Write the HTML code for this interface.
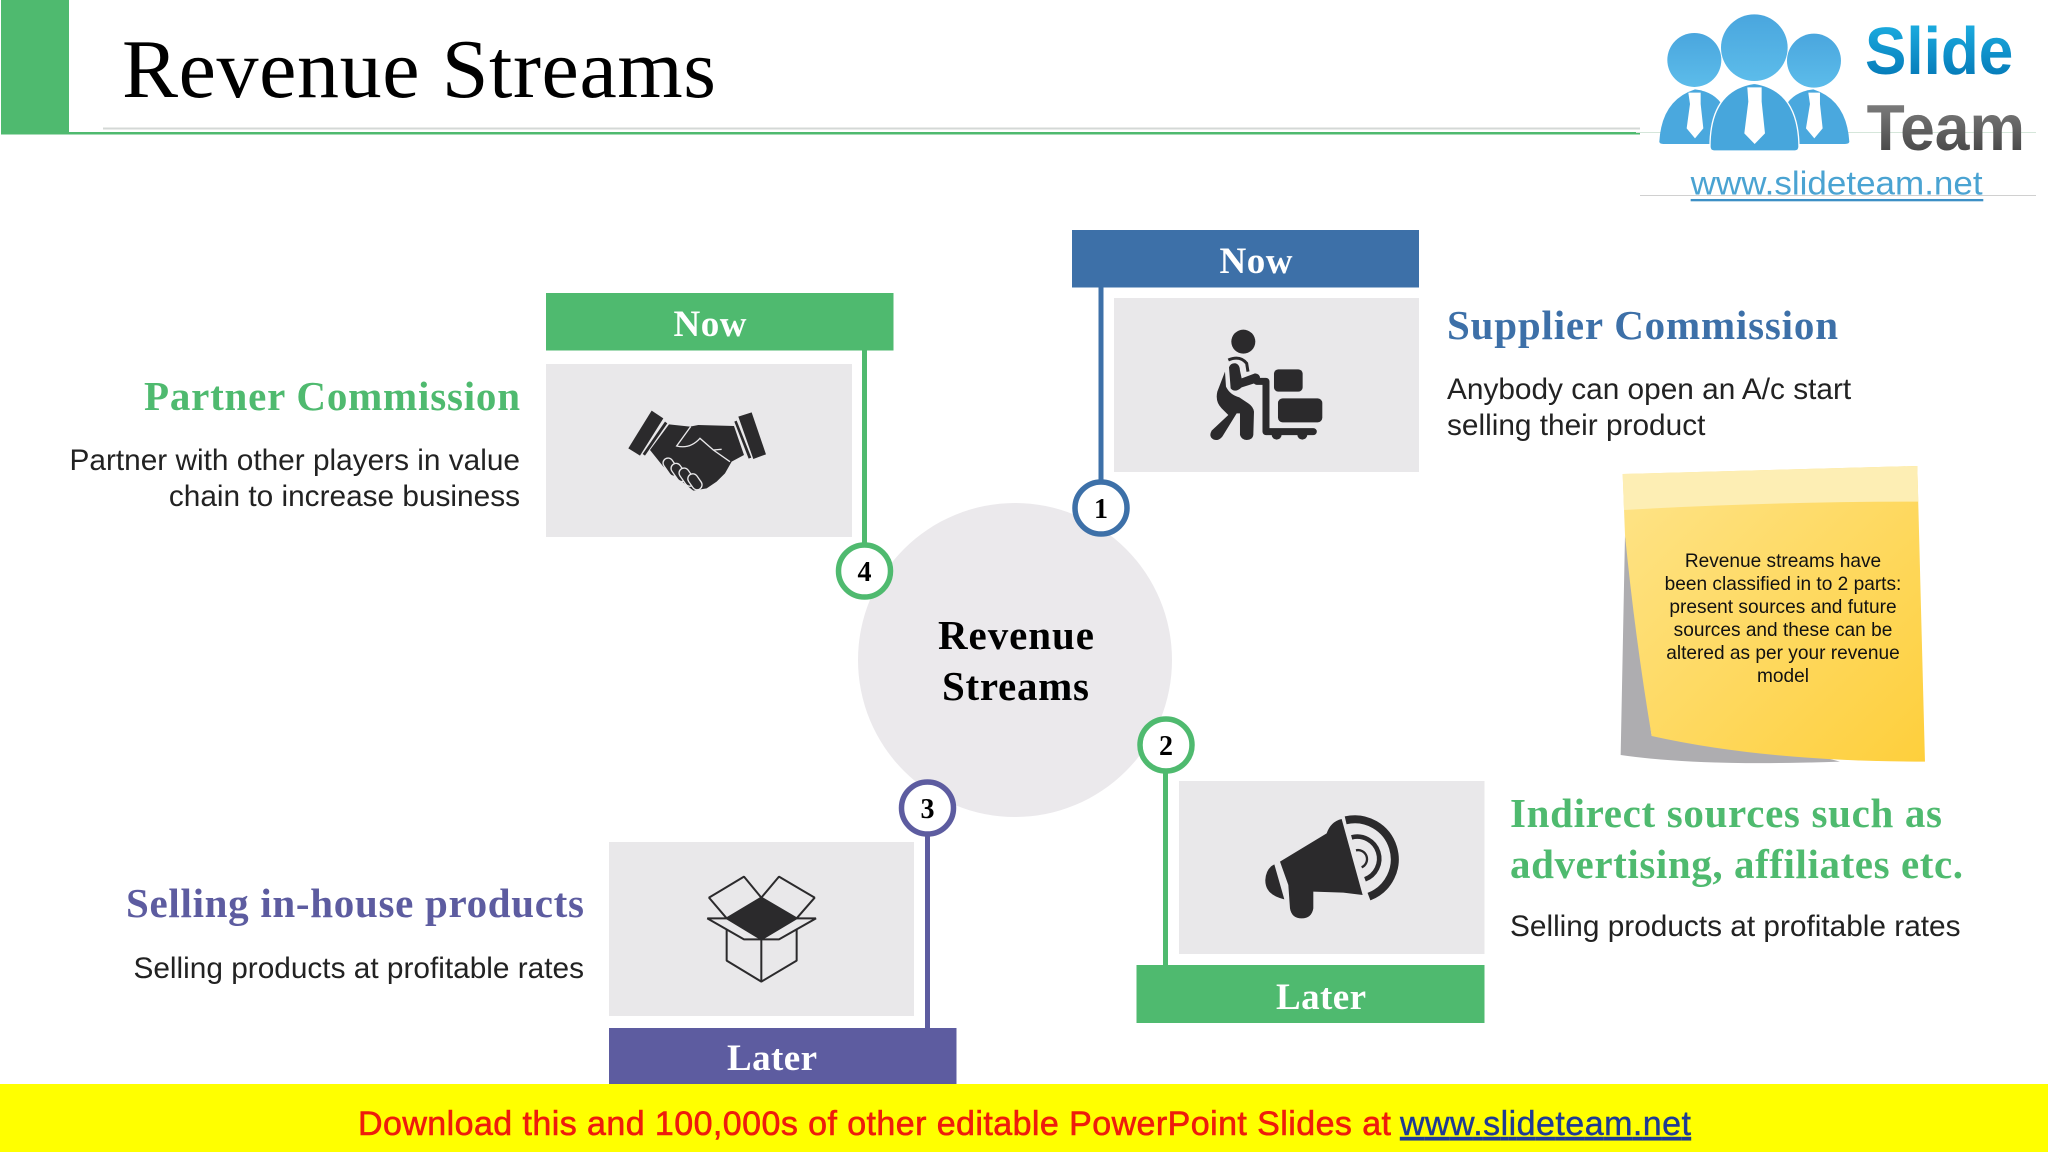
<!DOCTYPE html>
<html><head><meta charset="utf-8"><title>Revenue Streams</title>
<style>
html,body{margin:0;padding:0;background:#fff;width:2048px;height:1152px;overflow:hidden}
svg{display:block}
.s{font-family:"Liberation Serif",serif}
.b{font-family:"Liberation Serif",serif;font-weight:bold}
.a{font-family:"Liberation Sans",sans-serif}
</style></head><body>
<svg width="2048" height="1152" viewBox="0 0 2048 1152" xmlns="http://www.w3.org/2000/svg">
<defs>
<linearGradient id="note" x1="0" y1="0" x2="1" y2="1"><stop offset="0" stop-color="#fee48a"/><stop offset="1" stop-color="#fecf3c"/></linearGradient>
<linearGradient id="sl" x1="0" y1="0" x2="0" y2="1"><stop offset="0" stop-color="#20b4e6"/><stop offset="1" stop-color="#0070b0"/></linearGradient>
<linearGradient id="te" x1="0" y1="0" x2="0" y2="1"><stop offset="0" stop-color="#8a8a8a"/><stop offset="1" stop-color="#3c3c3c"/></linearGradient>
<linearGradient id="hd" x1="0" y1="0" x2="0" y2="1"><stop offset="0" stop-color="#4aa6de"/><stop offset="1" stop-color="#5cbcea"/></linearGradient>
</defs>
<rect width="2048" height="1152" fill="#fff"/>

<!-- header -->
<rect x="1" y="0" width="68" height="134.5" fill="#4fba6f"/>
<rect x="103" y="127.5" width="1537" height="2" fill="#d4d8d6"/>
<rect x="69" y="132" width="1571" height="2.5" fill="#4fba6f"/>
<text x="122" y="97" class="s" font-size="84" fill="#000" textLength="594">Revenue Streams</text>

<!-- logo -->
<rect x="1640" y="0" width="396" height="195" fill="#fff"/>
<rect x="1640" y="195" width="396" height="1" fill="#d0d0d0"/>
<rect x="1636" y="132" width="400" height="1" fill="#d5e6da"/>
<g transform="translate(1600,0) scale(0.3333)">
<path d="M178,425 Q185,300 285,268 Q345,275 370,320 L370,425 Q370,432 360,432 L190,432 Q178,432 178,425Z" fill="#4aa8de"/>
<path d="M748,425 Q740,300 640,268 Q580,275 555,320 L555,425 Q555,432 565,432 L735,432 Q748,432 748,425Z" fill="#4aa8de"/>
<path d="M330,440 Q330,270 463,250 Q595,270 597,440 Q597,453 585,453 L342,453 Q330,453 330,440Z" fill="#47a6dc" stroke="#fff" stroke-width="4"/>
<circle cx="283" cy="180" r="81" fill="url(#hd)"/>
<circle cx="642" cy="182" r="81" fill="url(#hd)"/>
<circle cx="463" cy="143" r="100" fill="url(#hd)"/>
<path d="M265,278 H302 V312 L310,385 L285,415 L260,385 L270,312Z" fill="#fff"/>
<path d="M625,278 H660 V312 L668,385 L643,415 L618,385 L630,312Z" fill="#fff"/>
<path d="M442,262 H485 V305 L495,400 L464,432 L433,400 L445,305Z" fill="#fff"/>
<text x="795" y="222" class="a" font-weight="bold" font-size="200" fill="url(#sl)" textLength="445" lengthAdjust="spacingAndGlyphs">Slide</text>
<text x="800" y="450" class="a" font-weight="bold" font-size="195" fill="url(#te)" textLength="475" lengthAdjust="spacingAndGlyphs">Team</text>
<text x="272" y="583" class="a" font-size="100" fill="#4aa3d2" textLength="876" lengthAdjust="spacingAndGlyphs">www.slideteam.net</text>
<rect x="272" y="597" width="878" height="7" fill="#3d8fc5"/>
</g>

<!-- center circle -->
<circle cx="1015" cy="660" r="157" fill="#ebe9ec"/>
<text x="938" y="649" class="b" font-size="41" fill="#000" textLength="156">Revenue</text>
<text x="942" y="700" class="b" font-size="41" fill="#000" textLength="147">Streams</text>

<!-- panels -->
<rect x="1114" y="298" width="305" height="174" fill="#e9e8ea"/>
<rect x="546" y="364" width="306" height="173" fill="#e9e8ea"/>
<rect x="1179" y="781" width="305.5" height="173" fill="#e9e8ea"/>
<rect x="609" y="842" width="305" height="174" fill="#e9e8ea"/>

<!-- connector lines -->
<rect x="1098.5" y="287" width="5" height="195" fill="#3d70a8"/>
<rect x="862" y="350" width="5" height="195" fill="#4fba6f"/>
<rect x="1163" y="770" width="5" height="196" fill="#4fba6f"/>
<rect x="925" y="833" width="5" height="196" fill="#5d5ca0"/>

<!-- headers -->
<rect x="1072" y="230" width="347" height="57.5" fill="#3d70a8"/>
<rect x="546" y="293" width="347.5" height="57.5" fill="#4fba6f"/>
<rect x="1136.5" y="965" width="348" height="58" fill="#4fba6f"/>
<rect x="609" y="1028" width="347.5" height="56" fill="#5d5ca0"/>
<text x="1219.5" y="273" class="b" font-size="37" fill="#fff" textLength="73">Now</text>
<text x="673.5" y="336" class="b" font-size="37" fill="#fff" textLength="73">Now</text>
<text x="1276" y="1009" class="b" font-size="37" fill="#fff" textLength="90">Later</text>
<text x="727" y="1070" class="b" font-size="37" fill="#fff" textLength="90">Later</text>

<!-- number badges -->
<circle cx="1101" cy="508" r="26" fill="#fff" stroke="#3d70a8" stroke-width="5.5"/>
<circle cx="864.5" cy="571" r="26" fill="#fff" stroke="#4fba6f" stroke-width="5.5"/>
<circle cx="1166" cy="745" r="26" fill="#fff" stroke="#4fba6f" stroke-width="5.5"/>
<circle cx="927.5" cy="808" r="26" fill="#fff" stroke="#5d5ca0" stroke-width="5.5"/>
<text x="1101" y="518" class="b" font-size="28" text-anchor="middle">1</text>
<text x="864.5" y="581" class="b" font-size="28" text-anchor="middle">4</text>
<text x="1166" y="755" class="b" font-size="28" text-anchor="middle">2</text>
<text x="927.5" y="818" class="b" font-size="28" text-anchor="middle">3</text>

<!-- worker icon -->
<g transform="translate(1100,280) scale(0.3333)" fill="#2b2a2c">
<circle cx="430" cy="185" r="36"/>
<path d="M375,275 L352,335 Q345,365 365,385 L385,405 L335,452 Q325,470 340,478 Q355,485 367,470 L410,400 L420,400 L420,465 Q425,480 440,480 Q458,480 460,465 L462,395 Q460,380 445,370 L418,352 Q390,345 378,320Z"/>
<path d="M387,262 Q392,248 408,250 Q420,255 420,272 L425,295 L465,280 Q482,282 480,298 L470,308 L425,322 Q405,340 392,325Z"/>
<path d="M385,240 Q420,225 440,250 L444,275" fill="none" stroke="#2b2a2c" stroke-width="9"/>
<path d="M470,304 H498 V455 H640" fill="none" stroke="#2b2a2c" stroke-width="21" stroke-linecap="round" stroke-linejoin="round"/>
<circle cx="530" cy="464" r="15"/><circle cx="607" cy="464" r="15"/>
<rect x="522" y="268" width="86" height="67" rx="13"/>
<rect x="534" y="355" width="133" height="72" rx="14"/>
</g>

<!-- handshake icon -->
<g transform="translate(550,360) scale(0.3333)" fill="#2b2a2c">
<polygon points="305,152 340,175 270,287 235,265"/>
<polygon points="345,185 352,190 285,287 278,282"/>
<polygon points="605,157 648,283 610,297 565,170"/>
<polygon points="553,185 560,182 604,293 596,296"/>
<path d="M357,193 L420,200 L445,195 L552,198 L582,285 L545,305 L525,340 L500,365 L470,385 L430,392 L340,320 L300,270Z"/>
<path d="M422,200 L380,258 Q420,268 450,235 L490,270 L540,305 M490,270 L515,268" fill="none" stroke="#e9e8ea" stroke-width="4"/>
<g fill="#2b2a2c" stroke="#e9e8ea" stroke-width="4">
<rect x="-14" y="-30" width="30" height="60" rx="15" transform="translate(362,322) rotate(-35)"/>
<rect x="-14" y="-30" width="30" height="60" rx="15" transform="translate(386,338) rotate(-35)"/>
<rect x="-14" y="-30" width="30" height="60" rx="15" transform="translate(410,352) rotate(-35)"/>
<rect x="-14" y="-26" width="30" height="52" rx="15" transform="translate(434,366) rotate(-35)"/>
</g>
</g>

<!-- megaphone icon -->
<g transform="translate(1180,780) scale(0.3333)" fill="#2b2a2c">
<path d="M300,245 L440,160 Q452,125 485,117 L548,345 L490,338 L400,335 L400,385 Q395,415 365,415 Q335,415 330,385 L325,315Z"/>
<path d="M283,253 L313,358 Q255,345 256,300 Q258,265 283,253Z"/>
<path d="M497,121 A120,120 0 0 1 567,350" fill="none" stroke="#2b2a2c" stroke-width="24"/>
<path d="M515,172 A66.2,66.2 0 0 1 555,298" fill="none" stroke="#2b2a2c" stroke-width="14"/>
<path d="M528,211 A27,27 0 0 1 545,262" fill="none" stroke="#2b2a2c" stroke-width="7"/>
</g>

<!-- box icon -->
<g transform="translate(670,850) scale(0.3333)" fill="none" stroke="#2b2a2c" stroke-width="6" stroke-linejoin="bevel">
<polygon points="274,143 380,205 274,268 170,205" fill="#2b2a2c"/>
<path d="M170,205 L117,143 L222,80 L274,143 L327,80 L434,143 L380,205"/>
<path d="M170,205 H112 L222,268 H274 H327 L438,205 H380"/>
<path d="M170,238 V332 L274,395 L380,332 V238 M274,268 V395"/>
</g>

<!-- sticky note -->
<g transform="translate(1600,450) scale(0.3333)">
<path d="M75,255 L62,915 Q300,950 720,935 L400,850 L155,858Z" fill="#aeadb0"/>
<path d="M68,72 L952,48 L975,935 Q500,935 155,858 Q105,560 75,255Z" fill="url(#note)"/>
<path d="M68,72 L952,48 L955,155 Q500,155 72,180Z" fill="#fdeeb4"/>
</g>
<g class="a" font-size="19.1" text-anchor="middle" fill="#111">
<text x="1783" y="567">Revenue streams have</text>
<text x="1783" y="590">been classified in to 2 parts:</text>
<text x="1783" y="613">present sources and future</text>
<text x="1783" y="636">sources and these can be</text>
<text x="1783" y="659">altered as per your revenue</text>
<text x="1783" y="682">model</text>
</g>

<!-- labels -->
<text x="1447" y="339" class="b" font-size="41" fill="#3d70a8" textLength="391">Supplier Commission</text>
<text x="1447" y="399" class="a" font-size="29.8" fill="#222">Anybody can open an A/c start</text>
<text x="1447" y="435" class="a" font-size="29.8" fill="#222">selling their product</text>

<text x="144" y="410" class="b" font-size="41" fill="#4fba6f" textLength="376">Partner Commission</text>
<text x="520" y="470" class="a" font-size="29.8" fill="#222" text-anchor="end">Partner with other players in value</text>
<text x="520" y="506" class="a" font-size="29.8" fill="#222" text-anchor="end">chain to increase business</text>

<text x="1510" y="827" class="b" font-size="41" fill="#4fba6f" textLength="432">Indirect sources such as</text>
<text x="1510" y="878" class="b" font-size="41" fill="#4fba6f" textLength="453">advertising, affiliates etc.</text>
<text x="1510" y="936" class="a" font-size="29.8" fill="#222">Selling products at profitable rates</text>

<text x="126" y="917" class="b" font-size="41" fill="#5d5ca0" textLength="458">Selling in-house products</text>
<text x="584" y="978" class="a" font-size="29.8" fill="#222" text-anchor="end">Selling products at profitable rates</text>

<!-- footer -->
<rect x="0" y="1084" width="2048" height="68" fill="#ffff00"/>
<text x="358" y="1135" class="a" font-size="34" fill="#ee1c0c" stroke="#ee1c0c" stroke-width="0.6" textLength="1033">Download this and 100,000s of other editable PowerPoint Slides at</text>
<text x="1400" y="1135" class="a" font-size="34" fill="#1f3a93" stroke="#1f3a93" stroke-width="0.4" text-decoration="underline" textLength="291">www.slideteam.net</text>
</svg>
</body></html>
